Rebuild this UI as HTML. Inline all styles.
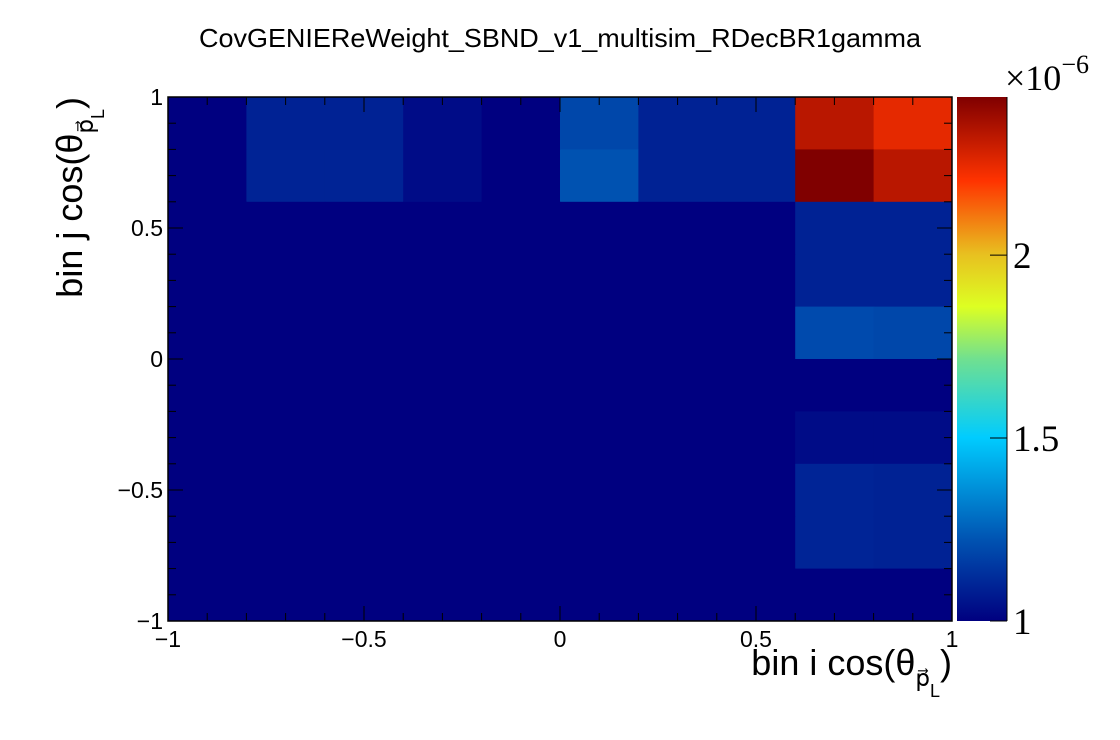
<!DOCTYPE html>
<html><head><meta charset="utf-8"><style>
html,body{margin:0;padding:0;background:#fff;}
svg{display:block;font-family:"Liberation Sans",sans-serif;}
</style></head><body>
<svg id="chart" width="1120" height="740" viewBox="0 0 1120 740" xmlns="http://www.w3.org/2000/svg">
<defs>
<linearGradient id="pal" x1="0" y1="1" x2="0" y2="0">
<stop offset="0" stop-color="#000080"/><stop offset="0.15" stop-color="#0050b0"/>
<stop offset="0.35" stop-color="#00ccff"/><stop offset="0.5" stop-color="#70e090"/>
<stop offset="0.6" stop-color="#ddff22"/><stop offset="0.7" stop-color="#e8c020"/>
<stop offset="0.84" stop-color="#ff3300"/><stop offset="1" stop-color="#800000"/>
</linearGradient>
</defs>
<text x="560" y="47" font-size="26" text-anchor="middle" textLength="722" lengthAdjust="spacingAndGlyphs">CovGENIEReWeight_SBND_v1_multisim_RDecBR1gamma</text>
<g id="cells"></g>
<g id="axes"></g>
<rect x="957" y="97" width="50" height="524" fill="url(#pal)"/>
<g id="cbaxis"></g>
<text x="1005" y="90" font-family="Liberation Serif,serif" font-size="36">×10<tspan dy="-17" font-size="26">−6</tspan></text>
<text x="952" y="675" font-size="36" text-anchor="end">bin i cos(θ<tspan dy="11" font-size="23">p⃗</tspan><tspan dy="11" font-size="18">L</tspan><tspan dy="-22">)</tspan></text>
<text transform="translate(82,97) rotate(-90)" x="0" y="0" font-size="36" text-anchor="end">bin j cos(θ<tspan dy="11" font-size="23">p⃗</tspan><tspan dy="11" font-size="18">L</tspan><tspan dy="-22">)</tspan></text>
</svg>
<script>
const xEdges = [-1,-0.8,-0.6,-0.4,-0.2,0,0.2,0.4,0.6,0.8,1];
const yEdges = [-1,-0.8,-0.6,-0.4,-0.2,0,0.2,0.4,0.6,0.8,1];
// rows from top (y 0.8..1) to bottom (y -1..-0.8), values x1e-6
const row0 = [1,1.09,1.09,1.033,1,1.19,1.09,1.09,2.33,2.25];
const row1 = [1,1.095,1.095,1.033,1,1.22,1.09,1.09,2.432,2.33];
const row2 = [1,1,1,1,1,1,1,1,1.09,1.09];
const row3 = [1,1,1,1,1,1,1,1,1.09,1.09];
const row4 = [1,1,1,1,1,1,1,1,1.2,1.19];
const row5 = [1,1,1,1,1,1,1,1,1,1];
const row6 = [1,1,1,1,1,1,1,1,1.033,1.033];
const row7 = [1,1,1,1,1,1,1,1,1.098,1.09];
const row8 = [1,1,1,1,1,1,1,1,1.098,1.09];
const row9 = [1,1,1,1,1,1,1,1,1,1];
const xTicks = [-1,-0.5,0,0.5,1];
const xTickLabels = ["−1","−0.5","0","0.5","1"];
const yTicks = [-1,-0.5,0,0.5,1];
const yTickLabels = ["−1","−0.5","0","0.5","1"];
const zMin = 1, zMax = 2.432;
const zTicks = [1,1.5,2];
const zTickLabels = ["1","1.5","2"];

const rows=[row0,row1,row2,row3,row4,row5,row6,row7,row8,row9];
const X0=168,X1=952,Y0=97,Y1=621;
const sx=v=>X0+(v+1)/2*(X1-X0);
const sy=v=>Y1-(v+1)/2*(Y1-Y0);
const sz=v=>Y1-(v-zMin)/(zMax-zMin)*(Y1-Y0);
const NS="http://www.w3.org/2000/svg";
const stops=[[0,[0,0,128]],[0.15,[0,80,176]],[0.35,[0,204,255]],[0.5,[112,224,144]],[0.6,[221,255,34]],[0.7,[232,192,32]],[0.84,[255,51,0]],[1,[128,0,0]]];
function col(v){let f=Math.max(0,Math.min(1,(v-zMin)/(zMax-zMin)));
for(let i=1;i<stops.length;i++){if(f<=stops[i][0]){const a=stops[i-1],b=stops[i];const t=(f-a[0])/(b[0]-a[0]);
return 'rgb('+a[1].map((c,k)=>Math.round(c+(b[1][k]-c)*t)).join(',')+')';}}return 'rgb(128,0,0)';}
function mk(tag,attrs,parent){const e=document.createElementNS(NS,tag);for(const k in attrs)e.setAttribute(k,attrs[k]);parent.appendChild(e);return e;}
const cells=document.getElementById('cells');
rows.forEach((r,ri)=>{const yi=9-ri;r.forEach((v,ci)=>{
const x=sx(xEdges[ci]),w=sx(xEdges[ci+1])-x,y=sy(yEdges[yi+1]),h=sy(yEdges[yi])-y;
const e=mk('rect',{x:x,y:y,width:w+0.5,height:h+0.5,fill:col(v)},cells);

});});
const ax=document.getElementById('axes');
const fr=mk('rect',{x:X0,y:Y0,width:X1-X0,height:Y1-Y0,fill:'none',stroke:'#000','stroke-width':1.5},ax);


for(let i=0;i<=20;i++){const v=-1+i*0.1;const major=i%5===0;const L=major?15:8;
const x=sx(v),y=sy(v);
mk('line',{x1:x,y1:Y1,x2:x,y2:Y1-L,stroke:'#000'},ax);
mk('line',{x1:x,y1:Y0,x2:x,y2:Y0+L,stroke:'#000'},ax);
mk('line',{x1:X0,y1:y,x2:X0+L,y2:y,stroke:'#000'},ax);
mk('line',{x1:X1,y1:y,x2:X1-L,y2:y,stroke:'#000'},ax);}
xTicks.forEach((v,i)=>{const t=mk('text',{x:sx(v),y:647,'font-size':23,'text-anchor':'middle'},ax);t.textContent=xTickLabels[i];

});
yTicks.forEach((v,i)=>{const t=mk('text',{x:163,y:sy(v)+8,'font-size':23,'text-anchor':'end'},ax);t.textContent=yTickLabels[i];

});
const cb=document.getElementById('cbaxis');
zTicks.forEach((v,i)=>{const y=sz(v);mk('line',{x1:1007,y1:y,x2:990,y2:y,stroke:'#000'},cb);
const t=mk('text',{x:1013,y:y+13,'font-size':37,'font-family':'Liberation Serif,serif'},cb);t.textContent=zTickLabels[i];

});
mk('line',{x1:1007,y1:Y0,x2:1007,y2:Y1,stroke:'#000'},cb);
</script>
</body></html>
